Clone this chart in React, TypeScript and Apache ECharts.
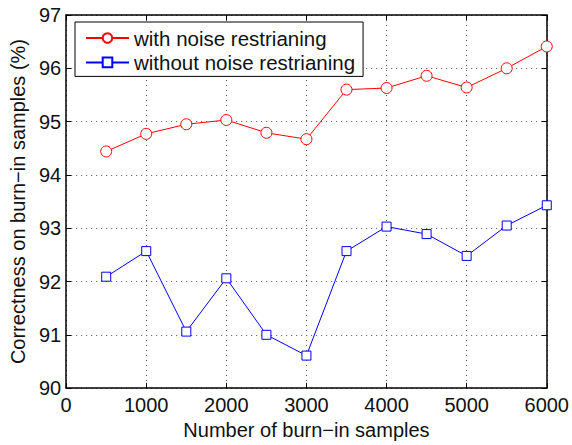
import React, { useEffect, useRef } from "react";
import * as echarts from "echarts";

const xValues = [500, 1000, 1500, 2000, 2500, 3000, 3500, 4000, 4500, 5000, 5500, 6000];
const withNoise = [94.44, 94.77, 94.95, 95.03, 94.79, 94.67, 95.6, 95.63, 95.86, 95.64, 96.0, 96.41];
const withoutNoise = [92.09, 92.57, 91.06, 92.06, 91.0, 90.61, 92.57, 93.03, 92.89, 92.48, 93.05, 93.43];
const seriesNames = ["with noise restrianing", "without noise restrianing"];
const xAxisTitle = "Number of burn\u2212in samples";
const yAxisTitle = "Correctness on burn\u2212in samples (%)";

const FONT = "Liberation Sans, Arial, Helvetica, sans-serif";

export default function App() {
  const ref = useRef<HTMLDivElement>(null);
  useEffect(() => {
    if (!ref.current) return;
    const chart = echarts.init(ref.current, null, { renderer: "svg" });
    const gridLine = { show: true, lineStyle: { color: "#555", type: [1, 4] as any, width: 1 } };
    const tick = { show: true, inside: true, length: 5, lineStyle: { color: "#000" } };
    const line = { show: true, onZero: false, lineStyle: { color: "#000", width: 1.5 } };
    chart.setOption({
      animation: false,
      backgroundColor: "#fff",
      textStyle: { fontFamily: FONT },
      grid: { left: 66, right: 25, top: 15, bottom: 51, containLabel: false },
      legend: {
        orient: "vertical",
        left: 75,
        top: 22,
        backgroundColor: "#fff",
        borderColor: "#000",
        borderWidth: 1,
        padding: [5, 8, 3, 10],
        itemGap: 2.4,
        itemWidth: 43,
        itemHeight: 12,
        textStyle: { fontSize: 20.5, lineHeight: 22, color: "#111", fontFamily: FONT },
        data: seriesNames,
      },
      xAxis: [
        {
          type: "value",
          min: 0,
          max: 6000,
          interval: 1000,
          position: "bottom",
          name: xAxisTitle,
          nameLocation: "middle",
          nameGap: 29,
          nameTextStyle: { fontSize: 20, color: "#111", fontFamily: FONT },
          axisLine: line,
          axisTick: tick,
          splitLine: gridLine,
          axisLabel: {
            fontSize: 20,
            color: "#111",
            margin: 7,
            fontFamily: FONT,
            formatter: (v: number) => String(v),
          },
        },
        {
          type: "value",
          min: 0,
          max: 6000,
          interval: 1000,
          position: "top",
          axisLine: line,
          axisTick: tick,
          splitLine: { show: false },
          axisLabel: { show: false },
        },
      ],
      yAxis: [
        {
          type: "value",
          min: 90,
          max: 97,
          interval: 1,
          position: "left",
          name: yAxisTitle,
          nameLocation: "middle",
          nameGap: 31,
          nameTextStyle: { fontSize: 20, color: "#111", fontFamily: FONT },
          axisLine: line,
          axisTick: tick,
          splitLine: gridLine,
          axisLabel: { fontSize: 20, color: "#111", margin: 5, fontFamily: FONT },
        },
        {
          type: "value",
          min: 90,
          max: 97,
          interval: 1,
          position: "right",
          axisLine: line,
          axisTick: tick,
          splitLine: { show: false },
          axisLabel: { show: false },
        },
      ],
      series: [
        {
          name: seriesNames[0],
          type: "line",
          data: xValues.map((x, i) => [x, withNoise[i]]),
          symbol: "circle",
          symbolSize: 11,
          showAllSymbol: true,
          lineStyle: { color: "#ff0000", width: 1 },
          itemStyle: { color: "#fff", borderColor: "#ff0000", borderWidth: 1 },
          color: "#ff0000",
        },
        {
          name: seriesNames[1],
          type: "line",
          data: xValues.map((x, i) => [x, withoutNoise[i]]),
          symbol: "rect",
          symbolSize: 9,
          showAllSymbol: true,
          lineStyle: { color: "#0000ff", width: 1 },
          itemStyle: { color: "#fff", borderColor: "#0000ff", borderWidth: 1 },
          color: "#0000ff",
        },
      ],
    });
    return () => chart.dispose();
  }, []);
  return <div ref={ref} style={{ width: 572, height: 445, position: "absolute", left: 0, top: 0 }} />;
}
